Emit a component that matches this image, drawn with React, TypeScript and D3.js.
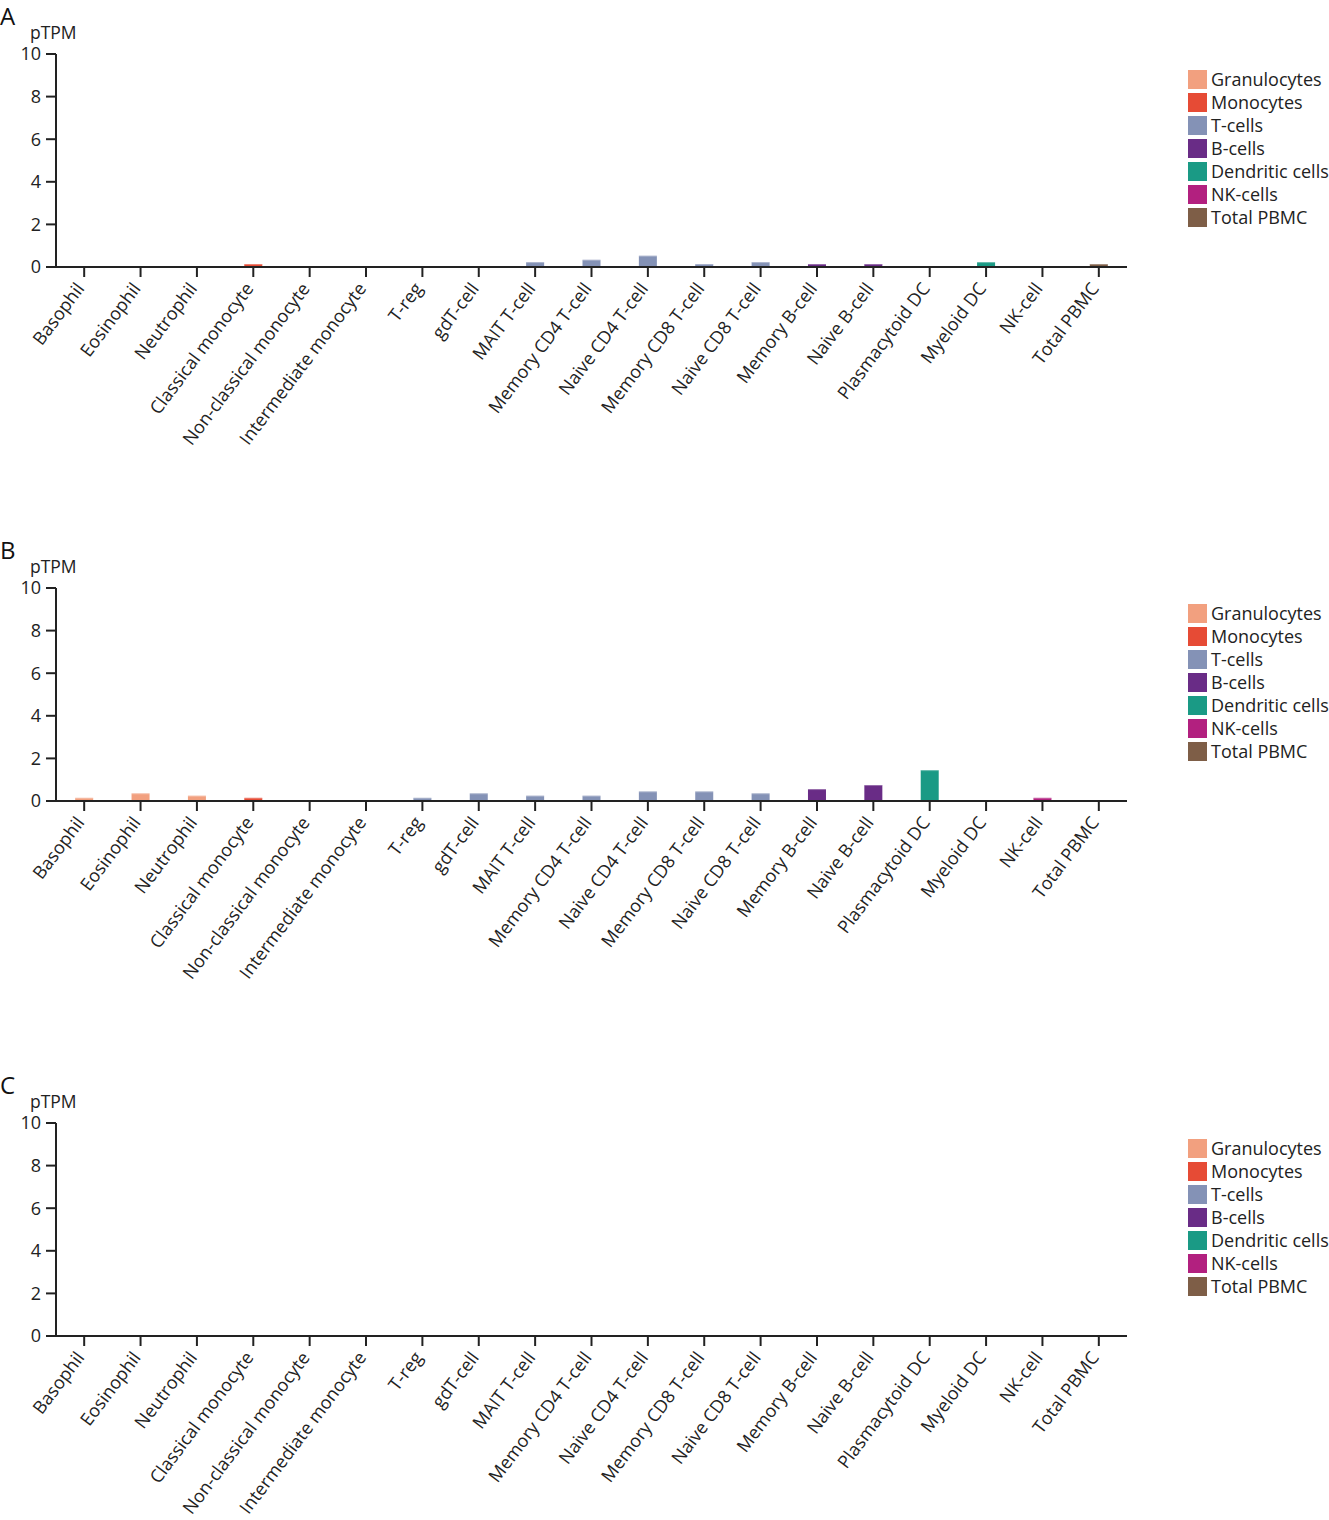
import React from "react";
import * as d3 from "d3";

const categories = [
  "Basophil", "Eosinophil", "Neutrophil", "Classical monocyte", "Non-classical monocyte",
  "Intermediate monocyte", "T-reg", "gdT-cell", "MAIT T-cell", "Memory CD4 T-cell",
  "Naive CD4 T-cell", "Memory CD8 T-cell", "Naive CD8 T-cell", "Memory B-cell",
  "Naive B-cell", "Plasmacytoid DC", "Myeloid DC", "NK-cell", "Total PBMC",
];
const groupOf = [
  "Granulocytes", "Granulocytes", "Granulocytes", "Monocytes", "Monocytes", "Monocytes",
  "T-cells", "T-cells", "T-cells", "T-cells", "T-cells", "T-cells", "T-cells",
  "B-cells", "B-cells", "Dendritic cells", "Dendritic cells", "NK-cells", "Total PBMC",
];
const groups = ["Granulocytes", "Monocytes", "T-cells", "B-cells", "Dendritic cells", "NK-cells", "Total PBMC"];
const groupColors = ["#F2A07F", "#E64B35", "#8492B6", "#692C86", "#1A9A85", "#B2207F", "#7E5E47"];

const valuesA = [0, 0, 0, 0.14, 0, 0, 0, 0, 0.23, 0.34, 0.53, 0.14, 0.23, 0.14, 0.14, 0, 0.23, 0, 0.14];
const valuesB = [0.15, 0.36, 0.25, 0.15, 0, 0, 0.15, 0.36, 0.25, 0.25, 0.45, 0.45, 0.36, 0.56, 0.75, 1.45, 0, 0.15, 0];
const valuesC = [0, 0, 0, 0, 0, 0, 0, 0, 0, 0, 0, 0, 0, 0, 0, 0, 0, 0, 0];
const panelLabels = ["A", "B", "C"];
const yTicks = [0, 2, 4, 6, 8, 10];
const yLabel = "pTPM";

const FONT = "'Open Sans', 'Noto Sans', sans-serif";

const x = d3.scaleBand<string>().domain(categories).range([56, 1127]).padding(0);
const color = d3.scaleOrdinal<string, string>().domain(groups).range(groupColors);

function Panel({ values, label, top }: { values: number[]; label: string; top: number }) {
  const y = d3.scaleLinear().domain([0, 10]).range([top + 213, top]);
  const base = y(0);
  const barW = 18;
  return (
    <g>
      <text x={0} y={top - 29} fontSize={24} fontFamily={FONT} fill="#111">{label}</text>
      <text x={30} y={top - 15} fontSize={17.5} fontFamily={FONT} fill="#222">{yLabel}</text>
      {values.map((v, i) => {
        const c = categories[i];
        const cx = (x(c) as number) + x.bandwidth() / 2;
        if (v <= 0) return null;
        const col = color(groupOf[i]);
        return (
          <g key={c}>
            <rect x={cx - barW / 2} y={y(v)} width={barW} height={base - y(v)} fill={col} />
            <rect x={cx - barW / 2} y={y(v)} width={barW} height={1} fill="#fff" opacity={0.3} />
          </g>
        );
      })}
      {/* y axis */}
      <line x1={56} x2={56} y1={y(10)} y2={base} stroke="#222" strokeWidth={2} />
      {yTicks.map((t) => (
        <g key={t}>
          <line x1={46} x2={56} y1={y(t)} y2={y(t)} stroke="#222" strokeWidth={2} />
          <text x={41} y={y(t)} dy="0.35em" textAnchor="end" fontSize={18} fontFamily={FONT} fill="#222">{t}</text>
        </g>
      ))}
      {/* x axis */}
      <line x1={56} x2={1127} y1={base} y2={base} stroke="#222" strokeWidth={2} />
      {categories.map((c) => {
        const cx = (x(c) as number) + x.bandwidth() / 2;
        return (
          <g key={c}>
            <line x1={cx} x2={cx} y1={base} y2={base + 10} stroke="#222" strokeWidth={2} />
            <text
              transform={`translate(${cx - 4},${base + 18}) rotate(-53)`}
              textAnchor="end"
              dy="0.35em"
              fontSize={18}
              fontFamily={FONT}
              fill="#222"
            >{c}</text>
          </g>
        );
      })}
      {/* legend */}
      {groups.map((g, i) => (
        <g key={g}>
          <rect x={1188} y={top + 16 + i * 23} width={19} height={19} fill={groupColors[i]} />
          <text x={1211} y={top + 26 + i * 23} dy="0.35em" fontSize={18} fontFamily={FONT} fill="#222">{g}</text>
        </g>
      ))}
    </g>
  );
}

export default function App() {
  const panels = [valuesA, valuesB, valuesC];
  const tops = [54, 588, 1123];
  return (
    <svg width={1329} height={1520} style={{ position: "absolute", left: 0, top: 0, background: "#fff" }}>
      <rect width={1329} height={1520} fill="#fff" />
      {panels.map((vals, i) => (
        <Panel key={i} values={vals} label={panelLabels[i]} top={tops[i]} />
      ))}
    </svg>
  );
}
